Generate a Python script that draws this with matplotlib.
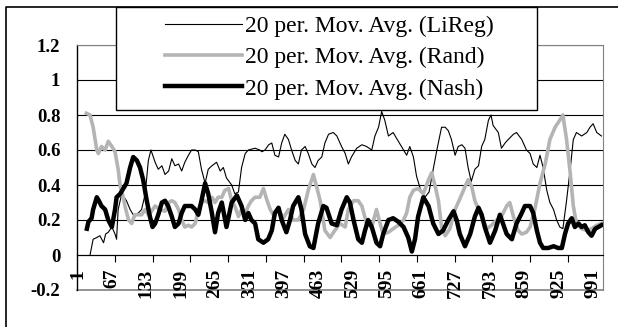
import numpy as np
import matplotlib.pyplot as plt
from matplotlib.lines import Line2D
from matplotlib.patches import Rectangle

plt.rcParams['font.family'] = ['Liberation Serif', 'DejaVu Serif']

# values (category index, moving average value)
lireg_x = [25, 31, 38, 44, 51, 55, 60, 67, 73, 76, 79, 86, 95, 102, 108, 118, 124, 131, 137, 142,
           150, 156, 163, 169, 176, 182, 188, 195, 201, 207, 214, 220, 227, 233, 239, 246, 252, 259,
           268, 275, 281, 287, 297, 303, 310, 316, 323, 329, 342, 351, 355, 361, 368, 374, 380, 387,
           393, 399, 406, 412, 419, 425, 431, 438, 444, 451, 457, 463, 470, 476, 483, 492, 499, 508,
           515, 521, 527, 537, 547, 556, 566, 572, 579, 585, 591, 598, 607, 617, 627, 633, 639, 646,
           652, 659, 668, 676, 684, 691, 700, 707, 713, 719, 726, 732, 739, 745, 751, 757, 764, 771,
           777, 783, 790, 795, 799, 809, 815, 822, 828, 838, 844, 854, 863, 870, 876, 883, 889, 895,
           902, 908, 915, 921, 927, 933, 940, 947, 953, 959, 969, 979, 985, 991, 998, 1007]
lireg_y = [0.0, 0.09, 0.10, 0.11, 0.07, 0.12, 0.13, 0.16, 0.12, 0.09, 0.26, 0.35, 0.31, 0.26, 0.23,
           0.24, 0.26, 0.35, 0.54, 0.60, 0.53, 0.49, 0.51, 0.46, 0.48, 0.55, 0.51, 0.52, 0.48, 0.53,
           0.57, 0.60, 0.60, 0.59, 0.49, 0.41, 0.49, 0.51, 0.53, 0.48, 0.50, 0.44, 0.40, 0.35, 0.36,
           0.50, 0.58, 0.60, 0.61, 0.60, 0.59, 0.60, 0.63, 0.64, 0.57, 0.56, 0.64, 0.69, 0.66, 0.60,
           0.54, 0.52, 0.60, 0.62, 0.58, 0.52, 0.50, 0.54, 0.56, 0.64, 0.69, 0.70, 0.68, 0.62, 0.58,
           0.52, 0.56, 0.61, 0.63, 0.62, 0.60, 0.68, 0.73, 0.82, 0.77, 0.68, 0.70, 0.65, 0.60, 0.57,
           0.62, 0.56, 0.45, 0.38, 0.33, 0.36, 0.49, 0.60, 0.73, 0.73, 0.71, 0.66, 0.57, 0.62, 0.63,
           0.61, 0.50, 0.42, 0.49, 0.51, 0.62, 0.66, 0.77, 0.80, 0.74, 0.70, 0.61, 0.64, 0.66, 0.69,
           0.70, 0.66, 0.60, 0.58, 0.52, 0.50, 0.57, 0.50, 0.37, 0.30, 0.26, 0.20, 0.16, 0.15, 0.31,
           0.49, 0.66, 0.70, 0.68, 0.70, 0.73, 0.75, 0.70, 0.68]

rand_x = [18, 25, 31, 38, 41, 47, 54, 60, 67, 73, 79, 83, 89, 92, 99, 105, 111, 118, 124, 131, 137,
          143, 150, 159, 169, 176, 182, 188, 195, 201, 207, 214, 220, 227, 233, 239, 246, 252, 259,
          265, 271, 278, 284, 291, 297, 303, 310, 316, 323, 329, 335, 342, 351, 358, 364, 371, 377,
          387, 396, 406, 415, 425, 435, 444, 454, 460, 467, 476, 486, 495, 505, 515, 521, 531, 540,
          547, 556, 566, 575, 582, 588, 598, 607, 617, 627, 633, 639, 646, 655, 665, 675, 681, 688,
          694, 700, 707, 716, 726, 735, 745, 751, 758, 764, 771, 780, 787, 796, 806, 815, 825, 831,
          838, 847, 854, 863, 870, 879, 889, 899, 908, 918, 927, 933, 940, 947, 953, 959, 969, 979,
          988, 998, 1007]
rand_y = [0.81, 0.80, 0.73, 0.60, 0.58, 0.62, 0.60, 0.65, 0.62, 0.59, 0.49, 0.39, 0.33, 0.28, 0.20,
          0.18, 0.23, 0.23, 0.23, 0.26, 0.23, 0.25, 0.28, 0.26, 0.25, 0.30, 0.31, 0.30, 0.26, 0.20,
          0.16, 0.17, 0.16, 0.18, 0.26, 0.30, 0.31, 0.30, 0.33, 0.30, 0.33, 0.33, 0.37, 0.38, 0.31,
          0.28, 0.22, 0.26, 0.24, 0.28, 0.31, 0.33, 0.33, 0.38, 0.32, 0.26, 0.23, 0.26, 0.21, 0.26,
          0.20, 0.20, 0.26, 0.37, 0.46, 0.39, 0.31, 0.14, 0.10, 0.14, 0.18, 0.16, 0.26, 0.31, 0.31,
          0.28, 0.18, 0.16, 0.26, 0.18, 0.12, 0.13, 0.15, 0.17, 0.20, 0.24, 0.33, 0.37, 0.38, 0.35,
          0.43, 0.47, 0.39, 0.31, 0.16, 0.11, 0.15, 0.26, 0.32, 0.39, 0.43, 0.39, 0.31, 0.26, 0.20,
          0.15, 0.17, 0.20, 0.22, 0.28, 0.30, 0.22, 0.14, 0.12, 0.13, 0.16, 0.26, 0.41, 0.52, 0.66,
          0.73, 0.77, 0.80, 0.66, 0.47, 0.28, 0.18, 0.15, 0.14, 0.15, 0.17, 0.18]

nash_x = [19, 22, 28, 31, 38, 42, 47, 54, 60, 67, 73, 76, 83, 89, 95, 102, 108, 115, 121, 127, 134,
          140, 145, 150, 156, 163, 169, 175, 182, 188, 195, 201, 207, 214, 220, 227, 233, 239, 246,
          252, 259, 265, 271, 278, 287, 297, 307, 316, 323, 329, 335, 342, 348, 358, 367, 374, 380,
          387, 393, 402, 409, 415, 425, 431, 438, 447, 454, 463, 473, 479, 489, 499, 508, 518, 524,
          531, 540, 547, 553, 559, 566, 575, 582, 588, 598, 607, 617, 627, 636, 643, 649, 655, 665,
          675, 684, 694, 703, 713, 723, 729, 735, 745, 755, 764, 771, 777, 783, 793, 803, 812, 819,
          825, 835, 844, 854, 860, 870, 876, 883, 889, 895, 905, 915, 924, 931, 937, 943, 950, 956,
          963, 969, 975, 982, 988, 995, 1001, 1007]
nash_y = [0.15, 0.19, 0.21, 0.26, 0.33, 0.31, 0.28, 0.26, 0.20, 0.16, 0.26, 0.33, 0.35, 0.38, 0.41,
          0.50, 0.56, 0.54, 0.50, 0.43, 0.31, 0.22, 0.16, 0.18, 0.23, 0.30, 0.31, 0.28, 0.22, 0.16,
          0.18, 0.24, 0.28, 0.28, 0.28, 0.26, 0.23, 0.31, 0.41, 0.35, 0.24, 0.13, 0.24, 0.30, 0.16,
          0.30, 0.34, 0.28, 0.20, 0.24, 0.20, 0.18, 0.09, 0.07, 0.09, 0.14, 0.24, 0.27, 0.20, 0.13,
          0.20, 0.28, 0.33, 0.26, 0.12, 0.05, 0.04, 0.18, 0.28, 0.27, 0.18, 0.17, 0.26, 0.33, 0.30,
          0.20, 0.09, 0.07, 0.14, 0.20, 0.16, 0.07, 0.05, 0.12, 0.20, 0.21, 0.19, 0.16, 0.10, 0.02,
          0.09, 0.22, 0.33, 0.28, 0.18, 0.12, 0.14, 0.20, 0.25, 0.20, 0.12, 0.05, 0.12, 0.22, 0.27,
          0.23, 0.16, 0.07, 0.14, 0.23, 0.17, 0.12, 0.09, 0.18, 0.24, 0.28, 0.28, 0.24, 0.14, 0.07,
          0.04, 0.04, 0.05, 0.04, 0.04, 0.12, 0.18, 0.21, 0.16, 0.18, 0.16, 0.17, 0.13, 0.11, 0.15,
          0.16, 0.17]

series_labels = ['20 per. Mov. Avg. (LiReg)', '20 per. Mov. Avg. (Rand)', '20 per. Mov. Avg. (Nash)']
x_tick_labels = [1, 67, 133, 199, 265, 331, 397, 463, 529, 595, 661, 727, 793, 859, 925, 991]
y_tick_values = [-0.2, 0, 0.2, 0.4, 0.6, 0.8, 1, 1.2]
y_tick_labels = ['-0.2', '0', '0.2', '0.4', '0.6', '0.8', '1', '1.2']

W, H = 618, 327
fig = plt.figure(figsize=(W / 100, H / 100), dpi=100)
ax = fig.add_axes([77 / W, 1 - 290 / H, 526 / W, 245 / H])

l1, = ax.plot(lireg_x, lireg_y, color='black', lw=0.8, label=series_labels[0], zorder=3)
l2, = ax.plot(rand_x, rand_y, color='#b4b4b4', lw=2.6, label=series_labels[1], zorder=4)
l3, = ax.plot(nash_x, nash_y, color='black', lw=3.2, label=series_labels[2], zorder=5)

ax.set_xlim(0, 1010)
ax.set_ylim(-0.2, 1.2)

# gridlines
for v in y_tick_values[1:]:
    ax.axhline(v, color='black', lw=0.8, zorder=1)
ax.axhline(-0.2, color='#808080', lw=1.2, zorder=1, clip_on=False)

# category axis crosses at 0
ax.spines['bottom'].set_position(('data', 0))
ax.spines['bottom'].set_linewidth(0.8)
ax.spines['left'].set_linewidth(1.0)
ax.spines['top'].set_color('#808080')
ax.spines['right'].set_color('#808080')

ax.set_xticks(x_tick_labels)
ax.set_xticklabels([str(t) for t in x_tick_labels], rotation=90, fontsize=14, fontweight='bold')
ax.tick_params(axis='x', which='major', length=0, pad=10)
ax.set_xticks(np.arange(72.5, 1000, 72.5), minor=True)
ax.tick_params(axis='x', which='minor', length=5, width=0.8, direction='out', color='black')

ax.set_yticks(y_tick_values)
ax.set_yticklabels(y_tick_labels, fontsize=13.5, fontweight='bold')
ax.tick_params(axis='y', length=0, pad=12)

# legend box (wider than its content, like the original)
fig.add_artist(Rectangle((116 / W, 1 - 110 / H), (537 - 116) / W, (110 - 7) / H,
                         transform=fig.transFigure, facecolor='white', edgecolor='black',
                         lw=1.0, zorder=4))
fig.legend(handles=[l1, l2, l3], loc='center left', bbox_to_anchor=(165 / W, 1 - 57.5 / H),
           frameon=False, borderpad=0, borderaxespad=0, fontsize=17, handlelength=3.25,
           handletextpad=0.15, labelspacing=0.42)

# chart area border
fig.add_artist(Line2D([6 / W, 6 / W, 1.0], [0.0, 1 - 7 / H, 1 - 7 / H], color='black', lw=1.2))

fig.savefig('out.png', dpi=100)
